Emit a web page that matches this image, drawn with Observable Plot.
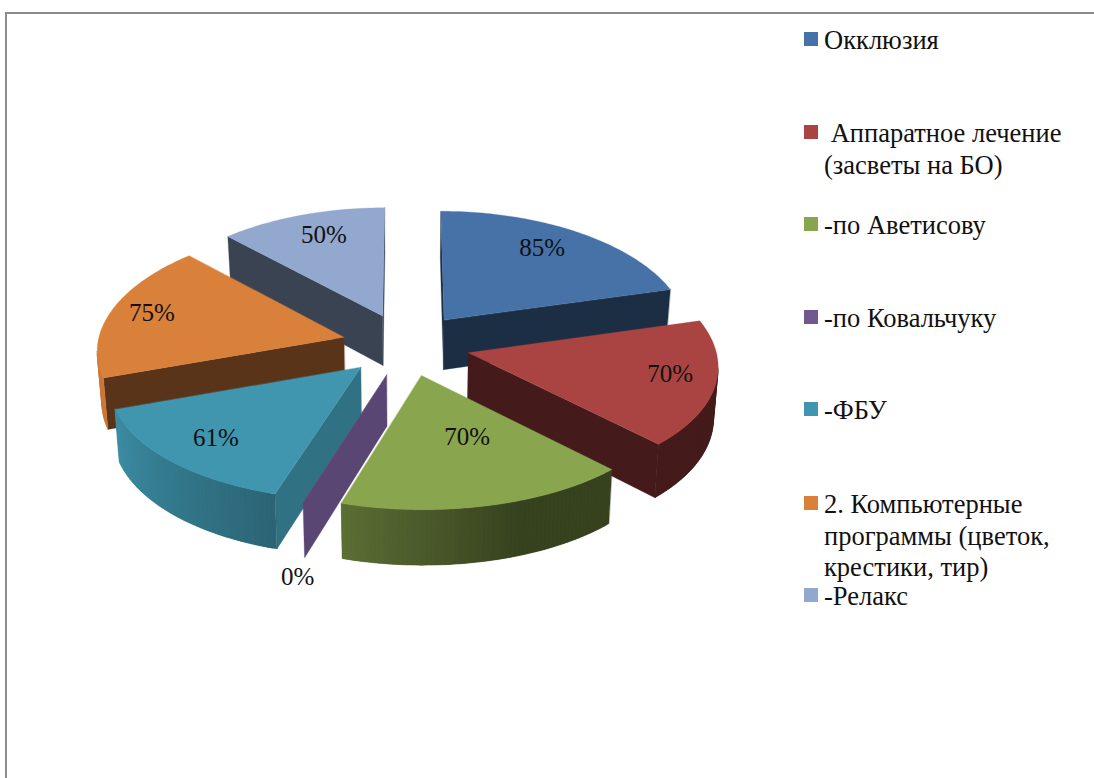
<!DOCTYPE html>
<html lang="ru">
<head>
<meta charset="utf-8">
<script src="https://cdn.jsdelivr.net/npm/d3@7"></script>
<script src="https://cdn.jsdelivr.net/npm/@observablehq/plot@0.6"></script>
<style>
  html,body{margin:0;padding:0;background:#fff;overflow:hidden;}
  #page{position:absolute;left:0;top:0;width:1094px;height:778px;overflow:hidden;font-family:"Liberation Serif",serif;color:#111;}
  #frame{position:absolute;left:5px;top:12px;width:1089px;height:766px;border-top:2px solid #8c8c8c;border-left:2px solid #8c8c8c;box-sizing:border-box;}
  #chart{position:absolute;left:0;top:0;}
  .sw{position:absolute;left:804px;width:14px;height:14px;}
  .lg{position:absolute;left:824px;font-size:26.5px;line-height:31.5px;white-space:pre;}
</style>
</head>
<body>
<div id="page"><div id="frame"></div><div id="chart"></div></div>
<script>
// ---- data ----
const categories = ["Окклюзия", "Аппаратное лечение (засветы на БО)", "-по Аветисову", "-по Ковальчуку", "-ФБУ", "2. Компьютерные программы (цветок, крестики, тир)", "-Релакс"];
const values = [85, 70, 70, 0, 61, 75, 50];
const legendLines = [["Окклюзия"], [" Аппаратное лечение", "(засветы на БО)"], ["-по Аветисову"], ["-по Ковальчуку"], ["-ФБУ"], ["2. Компьютерные", "программы (цветок,", "крестики, тир)"], ["-Релакс"]];

// ---- style ----
const colors = ["#4672A8", "#A94442", "#89A54E", "#71588F", "#4096AE", "#D9803A", "#92A8CE"];
const sideShade = [0.4, 0.4, 0.4, 0.8, 0.75, 0.41, 0.4];
const labelPull = [0.8, 0.86, 0.66, 1.42, 0.8, 0.86, 0.8];
const labelShiftU = [-0.041, -0.041, 0.012, 0.143, 0.02, 0.033, 0.029];
const labelShiftV = [-0.008, -0.05, -0.183, 0.125, -0.03, -0.008, 0.009];
const legendBaselines = [48, 141, 233, 326, 418, 512, 604];
const explode = 0.26, perspectiveX = 0.095, perspectiveY = 0.072, thickness = 0.42, taper = 0.015;

// ---- 3D pie geometry, built from the values ----
const rad = d => d * Math.PI / 180;
const arcs = d3.pie().sort(null).value(d => d)(values);
const shadeStops = d3.scaleLinear().domain([0, 160, 197, 250, 360]).range([0.4, 0.4, 0.67, 0.94, 0.94]);
const darken = (c, k) => { const o = d3.rgb(c); return d3.rgb(o.r * k, o.g * k, o.b * k).formatHex(); };
function project(X, Y, z) {
  const sx = 1 / (1 - perspectiveX * Y), sy = 1 / (1 - perspectiveY * Y);
  return {u: X * sx * (1 - taper * z), v: Y * sy + z * thickness * sy};
}
function slicePoints(a) {
  const mid = (a.startAngle + a.endAngle) / 2;
  const ox = explode * Math.sin(mid), oy = -explode * Math.cos(mid);
  const pts = [{X: ox, Y: oy, t: null}];
  const n = Math.max(1, Math.ceil((a.endAngle - a.startAngle) / rad(1)));
  for (let i = 0; i <= n; ++i) {
    const t = a.startAngle + (a.endAngle - a.startAngle) * i / n;
    pts.push({X: ox + Math.sin(t), Y: oy - Math.cos(t), t});
  }
  return {pts, mid, ox, oy};
}
const order = d3.range(values.length).sort((i, j) => {
  const m = a => (a.startAngle + a.endAngle) / 2;
  return (-Math.cos(m(arcs[i]))) - (-Math.cos(m(arcs[j])));
});
const rows = [];
let pid = 0;
function poly(corners, color) {
  const id = pid++;
  for (const c of corners) rows.push({u: c.u, v: c.v, poly: id, color});
}
for (const i of order) {
  const {pts} = slicePoints(arcs[i]);
  const m = pts.length;
  const edges = [];
  for (let k = 0; k < m; ++k) edges.push([pts[k], pts[(k + 1) % m], k]);
  const isArc = e => e[2] > 0 && e[2] < m - 1;
  const visible = e => project(e[1].X, e[1].Y, 0).u < project(e[0].X, e[0].Y, 0).u;
  const quad = (a, b) => [project(a.X, a.Y, 0), project(b.X, b.Y, 0), project(b.X, b.Y, 1), project(a.X, a.Y, 1)];
  for (const e of edges) if (!isArc(e) && visible(e)) poly(quad(e[0], e[1]), darken(colors[i], sideShade[i]));
  // rim strips run in arc order and each reaches one step into the next, so no seam shows
  const rim = edges.filter(e => isArc(e) && visible(e));
  rim.forEach((e, k) => {
    const far = rim[k + 1] ? rim[k + 1][1] : e[1];
    const corners = quad(e[0], e[1]);
    const farTop = project(far.X, far.Y, 0), farBottom = project(far.X, far.Y, 1);
    poly([corners[0], corners[1], farTop, farBottom, corners[2], corners[3]], darken(colors[i], shadeStops((e[0].t + e[1].t) / 2 * 180 / Math.PI)));
  });
  poly(pts.map(p => project(p.X, p.Y, 0)), colors[i]);
}
const labels = arcs.map((a, i) => {
  const {mid, ox, oy} = slicePoints(a);
  const p = project(ox + labelPull[i] * Math.sin(mid), oy - labelPull[i] * Math.cos(mid), 0);
  return {u: p.u + labelShiftU[i], v: p.v + labelShiftV[i], text: a.data + "%"};
});

// ---- chart ----
const chart = Plot.plot({
  width: 800, height: 778, margin: 0,
  x: {domain: [-1, 1], range: [159, 652], axis: null},
  y: {domain: [-1, 1], range: [224, 464], axis: null},
  color: {type: "identity"},
  style: {background: "transparent", overflow: "visible"},
  marks: [
    Plot.line(rows, {x: "u", y: "v", z: "poly", fill: "color", stroke: "color", strokeWidth: 0.3, curve: "linear-closed"}),
    Plot.text(labels, {x: "u", y: "v", text: "text", fontFamily: "Liberation Serif", fontSize: 25, fill: "#111", lineAnchor: "middle"})
  ]
});
document.getElementById("chart").append(chart);

// ---- legend ----
const page = document.getElementById("page");
categories.forEach((c, i) => {
  const sw = document.createElement("div");
  sw.className = "sw";
  sw.style.background = colors[i];
  sw.style.top = (legendBaselines[i] - 16) + "px";
  page.append(sw);
  const t = document.createElement("div");
  t.className = "lg";
  t.style.top = (legendBaselines[i] - 23) + "px";
  t.textContent = legendLines[i].join("\n");
  t.title = c;
  page.append(t);
});
</script>
</body>
</html>
